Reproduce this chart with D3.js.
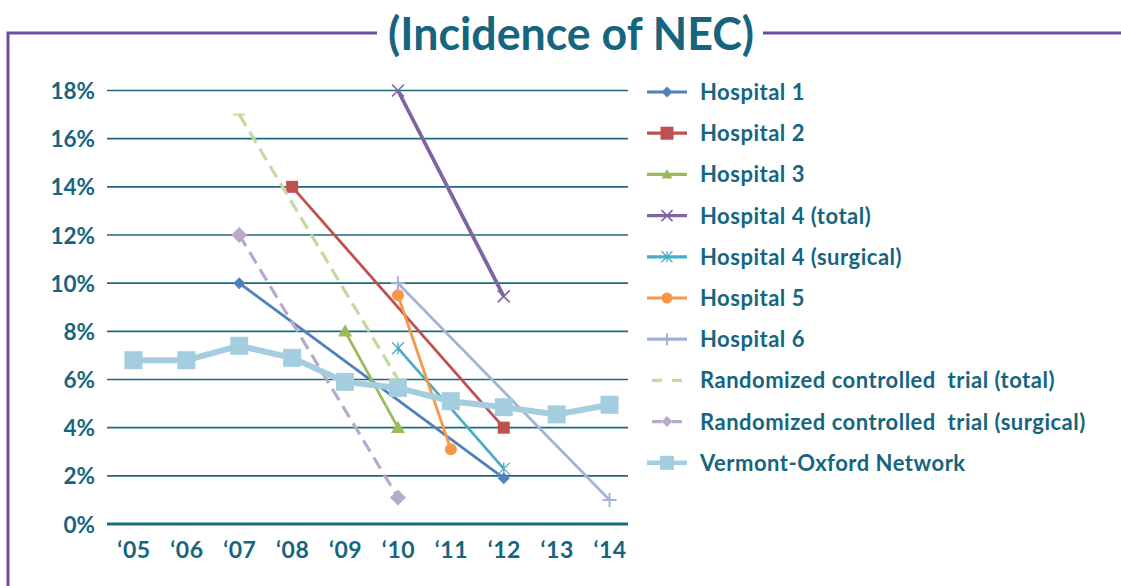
<!DOCTYPE html>
<html>
<head>
<meta charset="utf-8">
<script src="https://cdn.jsdelivr.net/npm/d3@7"></script>
<style>
  body { margin: 0; background: #fff; }
  svg { display: block; font-family: Lato, "Open Sans", sans-serif; }
</style>
</head>
<body>
<div id="chart"></div>
<script>
const W = 1121, H = 586;
const textCol = "#15657f";
const gridCol = "#1b6a82";
const frameCol = "#6b4ea0";

const years = ["‘05","‘06","‘07","‘08","‘09","‘10","‘11","‘12","‘13","‘14"];
const yTicks = [0, 2, 4, 6, 8, 10, 12, 14, 16, 18];

const hospital1   = [["‘07", 10],  ["‘12", 1.9]];
const hospital2   = [["‘08", 14],  ["‘12", 4]];
const hospital3   = [["‘09", 8],   ["‘10", 4]];
const hospital4t  = [["‘10", 18],  ["‘12", 9.45]];
const hospital4s  = [["‘10", 7.3], ["‘12", 2.3]];
const hospital5   = [["‘10", 9.5], ["‘11", 3.1]];
const hospital6   = [["‘10", 10],  ["‘14", 1]];
const rctTotal    = [["‘07", 17],  ["‘10", 6]];
const rctSurgical = [["‘07", 12],  ["‘10", 1.1]];
const vermont     = [["‘05", 6.8], ["‘06", 6.8], ["‘07", 7.4], ["‘08", 6.9], ["‘09", 5.9],
                     ["‘10", 5.65], ["‘11", 5.1], ["‘12", 4.85], ["‘13", 4.55], ["‘14", 4.95]];

const seriesNames = [
  "Hospital 1", "Hospital 2", "Hospital 3", "Hospital 4 (total)", "Hospital 4 (surgical)",
  "Hospital 5", "Hospital 6", "Randomized controlled\u00a0 trial (total)",
  "Randomized controlled\u00a0 trial (surgical)", "Vermont-Oxford Network"
];

const series = [
  { name: seriesNames[0], data: hospital1,   color: "#4f81bd", width: 2.8, marker: "diamond", size: 6 },
  { name: seriesNames[1], data: hospital2,   color: "#c0504d", width: 2.8, marker: "square",  size: 6 },
  { name: seriesNames[2], data: hospital3,   color: "#9bbb59", width: 2.8, marker: "triangle", size: 7 },
  { name: seriesNames[3], data: hospital4t,  color: "#8064a2", width: 3.8, marker: "x",       size: 6 },
  { name: seriesNames[4], data: hospital4s,  color: "#4bacc6", width: 2.8, marker: "star",    size: 6 },
  { name: seriesNames[5], data: hospital5,   color: "#f79646", width: 2.8, marker: "circle",  size: 6 },
  { name: seriesNames[6], data: hospital6,   color: "#a1b3d9", width: 2.8, marker: "plus",    size: 7 },
  { name: seriesNames[7], data: rctTotal,    color: "#c4d8a0", width: 3.2, marker: "dash",    size: 6, dash: "13,7" },
  { name: seriesNames[8], data: rctSurgical, color: "#b8a9cd", width: 3.2, marker: "diamond", size: 8, dash: "13,7" },
  { name: seriesNames[9], data: vermont,     color: "#a5cde0", width: 6,   marker: "square",  size: 9 }
];

const svg = d3.select("#chart").append("svg").attr("width", W).attr("height", H);

// frame
svg.append("path")
  .attr("d", `M8,${H} V33 H377 M763,33 H${W}`)
  .attr("fill", "none").attr("stroke", frameCol).attr("stroke-width", 3);

svg.append("text")
  .attr("x", 571).attr("y", 50)
  .attr("text-anchor", "middle")
  .attr("fill", textCol)
  .attr("font-size", 46).attr("font-weight", 700)
  .attr("textLength", 366).attr("lengthAdjust", "spacingAndGlyphs")
  .text("(Incidence of NEC)");

const x = d3.scalePoint().domain(years).range([107, 636]).padding(0.5);
const y = d3.scaleLinear().domain([0, 18]).range([524, 90.5]);

// grid
svg.append("g").selectAll("line")
  .data(yTicks).join("line")
  .attr("x1", 107).attr("x2", 628)
  .attr("y1", d => y(d)).attr("y2", d => y(d))
  .attr("stroke", gridCol)
  .attr("stroke-width", d => d === 0 ? 3 : 1.6);

const yAxis = svg.append("g")
  .attr("transform", "translate(95,0)")
  .call(d3.axisLeft(y).tickValues(yTicks).tickFormat(d => d + "%").tickSize(0));
yAxis.select(".domain").remove();
yAxis.selectAll("text")
  .attr("x", 0).attr("dy", "0.36em")
  .attr("fill", textCol).attr("font-size", 22.5).attr("font-weight", 700)
  .attr("font-family", "Lato, sans-serif");

const xAxis = svg.append("g")
  .attr("transform", "translate(0,541)")
  .call(d3.axisBottom(x).tickSize(0));
xAxis.select(".domain").remove();
xAxis.selectAll("text")
  .attr("y", 0).attr("dy", "0.72em")
  .attr("fill", textCol).attr("font-size", 23).attr("font-weight", 700)
  .attr("letter-spacing", 0.5)
  .attr("font-family", "Lato, sans-serif");

function drawMarker(g, type, cx, cy, s, color) {
  if (type === "diamond") {
    g.append("path").attr("d", `M${cx},${cy - s} L${cx + s},${cy} L${cx},${cy + s} L${cx - s},${cy}Z`).attr("fill", color);
  } else if (type === "square") {
    g.append("rect").attr("x", cx - s).attr("y", cy - s).attr("width", 2 * s).attr("height", 2 * s).attr("fill", color);
  } else if (type === "triangle") {
    g.append("path").attr("d", `M${cx},${cy - s} L${cx + s},${cy + s * 0.75} L${cx - s},${cy + s * 0.75}Z`).attr("fill", color);
  } else if (type === "circle") {
    g.append("circle").attr("cx", cx).attr("cy", cy).attr("r", s).attr("fill", color);
  } else if (type === "x") {
    g.append("path").attr("d", `M${cx - s},${cy - s} L${cx + s},${cy + s} M${cx + s},${cy - s} L${cx - s},${cy + s}`)
      .attr("stroke", color).attr("stroke-width", 1.6);
  } else if (type === "star") {
    g.append("path").attr("d", `M${cx - s},${cy - s} L${cx + s},${cy + s} M${cx + s},${cy - s} L${cx - s},${cy + s} M${cx},${cy - s} V${cy + s}`)
      .attr("stroke", color).attr("stroke-width", 1.3);
  } else if (type === "plus") {
    g.append("path").attr("d", `M${cx},${cy - s} V${cy + s} M${cx - s},${cy} H${cx + s}`)
      .attr("stroke", color).attr("stroke-width", 2);
  } else if (type === "dash") {
    g.append("path").attr("d", `M${cx - s},${cy} H${cx + s}`)
      .attr("stroke", color).attr("stroke-width", 2);
  }
}

const line = d3.line().x(d => x(d[0])).y(d => y(d[1]));

series.forEach(s => {
  const g = svg.append("g");
  g.append("path").datum(s.data)
    .attr("d", line)
    .attr("fill", "none")
    .attr("stroke", s.color)
    .attr("stroke-width", s.width)
    .attr("stroke-dasharray", s.dash || null);
  s.data.forEach(d => drawMarker(g, s.marker, x(d[0]), y(d[1]), s.size, s.color));
});

// legend
const legend = svg.append("g");
series.forEach((s, i) => {
  const ly = 92 + i * 41.2;
  const g = legend.append("g");
  g.append("line")
    .attr("x1", 647).attr("x2", 687).attr("y1", ly).attr("y2", ly)
    .attr("stroke", s.color).attr("stroke-width", s.width === 6 ? 4.5 : 3.2)
    .attr("stroke-dasharray", s.dash ? "10,10" : null)
    .attr("stroke-dashoffset", s.dash ? -5 : null);
  if (s.marker !== "dash") {
    const ms = s.marker === "square" ? (s.size > 7 ? 7 : 6.5) : (s.marker === "plus" ? 6 : 5.5);
    drawMarker(g, s.marker, 667, ly, ms, s.color);
  }
  g.append("text")
    .attr("x", 700).attr("y", ly).attr("dy", "0.36em")
    .attr("fill", textCol).attr("font-size", 22).attr("font-weight", 700)
    .attr("letter-spacing", 0.5)
    .text(s.name);
});
</script>
</body>
</html>
